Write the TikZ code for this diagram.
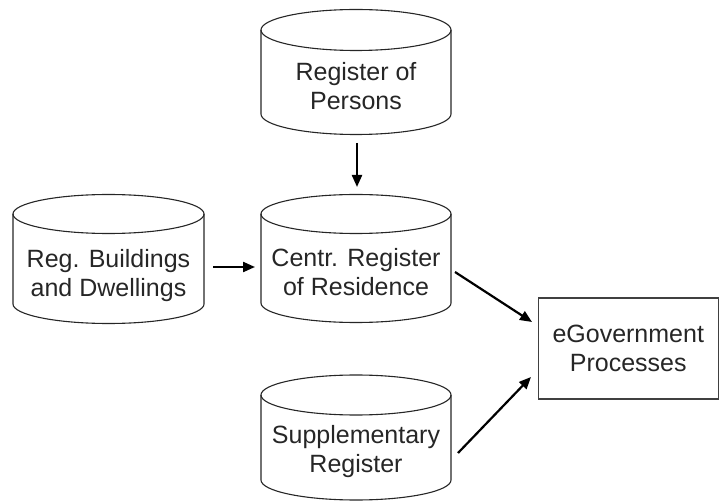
\documentclass[tikz,border=0pt]{standalone}
\usepackage{fontspec}
\setmainfont{Liberation Sans}
\usetikzlibrary{calc,arrows.meta}

% database outline: centre x, top-ellipse y, bottom-ellipse y, x radius, y radius
\newcommand{\dbshape}[5]{%
  \draw[dbline] (#1-#4,#2) -- (#1-#4,#3)
    arc[start angle=180,end angle=360,x radius=#4,y radius=#5] -- (#1+#4,#2);
  \draw[dbline] (#1,#2) ellipse [x radius=#4,y radius=#5];
}

\begin{document}
\begin{tikzpicture}[x=1pt,y=1pt,
  dbline/.style={draw=black!85,line width=1.1pt},
  lbl/.style={align=center,inner sep=0pt,text=black!85,
    font=\fontsize{25}{29}\selectfont},
  procbox/.style={lbl,draw=black!75,line width=1.3pt,minimum width=180pt,
    minimum height=101pt},
  arr/.style={draw=black,line width=2.2pt,
    -{Triangle[length=12pt,width=10pt]}}]
\useasboundingbox (0,0) rectangle (720,501);

% registers
\dbshape{356}{471}{387}{95}{20.5}
\node[lbl] (persons) at (356,415.25) {Register of\\Persons};

\dbshape{108.5}{287}{197}{95.5}{19.5}
\node[lbl] (buildings) at (108.5,225.75) {Reg. Buildings\\and Dwellings};

\dbshape{356}{287}{198}{95}{19.5}
\node[lbl] (centre) at (356,229.25) {Centr. Register\\of Residence};

\dbshape{356}{106}{21}{95}{20}
\node[lbl] (suppl) at (356,49.75) {Supplementary\\Register};

% consumer
\node[procbox] (egov) at (628.25,152.5) {eGovernment\\Processes};

% data flows
\draw[arr] ($(persons)+(1,-57.25)$) -- ($(centre)+(1,84.75)$);
\draw[arr] ($(buildings)+(104.5,8.25)$) -- ($(centre)+(-101,4.75)$);
\draw[arr] ($(centre)+(99,-0.25)$) -- ($(egov)+(-96.25,26.5)$);
\draw[arr] ($(suppl)+(102,-1.75)$) -- ($(egov)+(-97.25,-28.5)$);
\end{tikzpicture}
\end{document}
